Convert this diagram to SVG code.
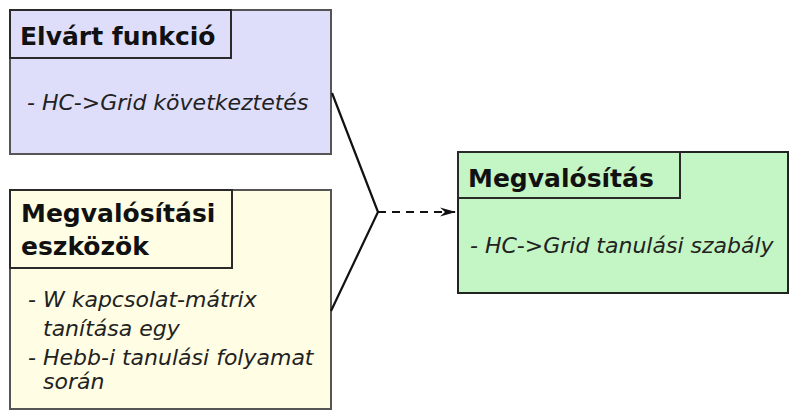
<svg xmlns="http://www.w3.org/2000/svg" width="790" height="411" viewBox="0 0 790 411">
  <defs>
    <style>
      .frame { stroke: #555; stroke-width: 2; }
      .tab { stroke: #2a2a2a; stroke-width: 2; fill: none; }
      .title { font-family: "DejaVu Sans", sans-serif; font-weight: bold; font-size: 25px; fill: #111; }
      .body { font-family: "DejaVu Sans", sans-serif; font-style: italic; font-size: 22px; fill: #222; }
      .link { stroke: #111; stroke-width: 2.2; fill: none; }
    </style>
    <marker id="arrow" viewBox="0 0 16 10" refX="15" refY="5" markerWidth="16" markerHeight="10" markerUnits="userSpaceOnUse" orient="auto">
      <path d="M0,0.5 L16,5 L0,9.5 L5,5 Z" fill="#111"/>
    </marker>
  </defs>

  <g id="elvart-funkcio">
    <rect class="frame" x="10" y="10" width="321" height="144" fill="#dedefa"/>
    <rect class="tab" x="10" y="10" width="221" height="48"/>
    <text class="title" x="20" y="45">Elvárt funkció</text>
    <text class="body" x="27" y="110">- HC-&gt;Grid következtetés</text>
  </g>

  <g id="megvalositasi-eszkozok">
    <rect class="frame" x="10" y="190" width="321" height="219" fill="#fffde4"/>
    <rect class="tab" x="10" y="190" width="222" height="78"/>
    <text class="title" x="21" y="222">Megvalósítási</text>
    <text class="title" x="21" y="255">eszközök</text>
    <text class="body" x="28" y="307">- W kapcsolat-mátrix</text>
    <text class="body" x="43" y="336">tanítása egy</text>
    <text class="body" x="28" y="365">- Hebb-i tanulási folyamat</text>
    <text class="body" x="43" y="389">során</text>
  </g>

  <g id="megvalositas">
    <rect x="458" y="152" width="330" height="141" fill="#c4f5c4" stroke="#222" stroke-width="2"/>
    <rect class="tab" x="458" y="152" width="222" height="46"/>
    <text class="title" x="468" y="187">Megvalósítás</text>
    <text class="body" x="470" y="253">- HC-&gt;Grid tanulási szabály</text>
  </g>

  <g id="connectors">
    <polyline class="link" points="332,93 378,212 331,311"/>
    <line class="link" x1="378" y1="212" x2="455" y2="212" stroke-dasharray="8,6" marker-end="url(#arrow)"/>
  </g>
</svg>
